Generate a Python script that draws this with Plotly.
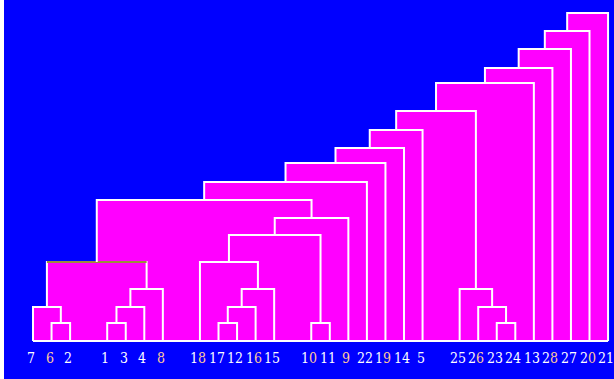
import plotly.graph_objects as go

# Leaf order along the bottom ("" = empty slot between groups)
leaf_order = ["7", "6", "2", "", "1", "3", "4", "8", "", "18", "17", "12", "16", "15", "",
              "10", "11", "9", "22", "19", "14", "5", "", "25", "26", "23", "24", "13",
              "28", "27", "20", "21"]

# Merges (agglomeration steps): left member, right member, joining distance
merge_left = ["6", "7", "1", "m3", "m4", "m2", "17", "m7", "m8", "18", "10", "m10", "m12",
              "m6", "m14", "m15", "m16", "m17", "23", "26", "25", "m18", "m22", "m23",
              "m24", "m25", "m26"]
merge_right = ["2", "m1", "3", "4", "8", "m5", "12", "16", "15", "m9", "11", "m11", "9",
               "m13", "22", "19", "14", "5", "24", "m19", "m20", "m21", "13", "28", "27",
               "20", "21"]
merge_height = [18, 34, 18, 34, 52, 79, 18, 34, 52, 79, 18, 106, 123, 141, 159, 178, 193,
                211, 18, 34, 52, 230, 258, 273, 292, 310, 328]

BG = "#0000ff"
FILL = "#ff00ff"
LINE = "#ffffff"
HILITE = "#9c8c3c"
hilite_merge = 6  # merge number whose top bar is drawn in olive

pos = {lab: i for i, lab in enumerate(leaf_order) if lab}
hgt = {lab: 0 for lab in pos}
for i, (a, b, h) in enumerate(zip(merge_left, merge_right, merge_height), start=1):
    pos[f"m{i}"] = (pos[a] + pos[b]) / 2
    hgt[f"m{i}"] = h

fig = go.Figure()

# filled blocks under each link
for a, b, h in zip(merge_left, merge_right, merge_height):
    xa, xb = pos[a], pos[b]
    fig.add_trace(go.Scatter(x=[xa, xa, xb, xb, xa], y=[0, h, h, 0, 0], mode="lines",
                             fill="toself", fillcolor=FILL, line=dict(width=0),
                             hoverinfo="skip"))

# baseline
leaf_pos = [i for i, lab in enumerate(leaf_order) if lab]
fig.add_trace(go.Scatter(x=[min(leaf_pos), max(leaf_pos)], y=[0, 0], mode="lines",
                         line=dict(color=LINE, width=2), hoverinfo="skip"))

# dendrogram links
for i, (a, b, h) in enumerate(zip(merge_left, merge_right, merge_height), start=1):
    xa, xb = pos[a], pos[b]
    fig.add_trace(go.Scatter(x=[xa, xa, xb, xb], y=[hgt[a], h, h, hgt[b]], mode="lines",
                             line=dict(color=LINE, width=2), hoverinfo="skip"))
    if i == hilite_merge:
        fig.add_trace(go.Scatter(x=[xa, xb], y=[h, h], mode="lines",
                                 line=dict(color=HILITE, width=2), hoverinfo="skip"))

# leaf labels
ORANGE_DIGITS = set("0689")
def fmt(lab):
    return "".join(f"<span style='color:#ffc89a'>{c}</span>" if c in ORANGE_DIGITS else c
                   for c in lab)

for i in leaf_pos:
    fig.add_annotation(x=i, y=-17, text=fmt(leaf_order[i]), showarrow=False, xshift=-2,
                       font=dict(family="DejaVu Serif Condensed, Liberation Serif, serif",
                                 size=14, color="#ffffff"))

fig.add_shape(type="rect", xref="paper", yref="paper", x0=0, x1=4 / 614, y0=0, y1=1,
              fillcolor="#ffffff", line=dict(width=0), layer="above")

fig.update_layout(width=614, height=379, margin=dict(l=0, r=0, t=0, b=0),
                  paper_bgcolor=BG, plot_bgcolor=BG, showlegend=False, hovermode=False)
fig.update_xaxes(visible=False, range=[-1.779, 31.32], fixedrange=True)
fig.update_yaxes(visible=False, range=[-38, 341], fixedrange=True)

fig.write_html("out.html")
